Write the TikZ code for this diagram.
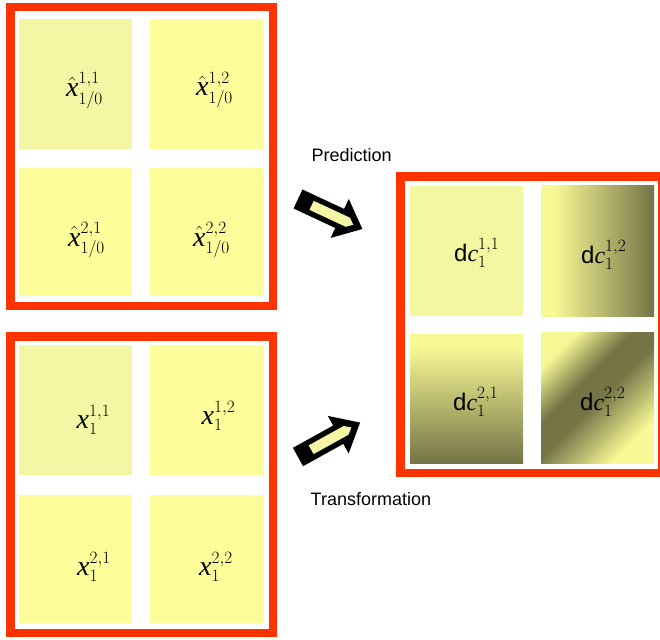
\documentclass[tikz,border=0pt]{standalone}
\usepackage{amsmath}
\usepackage{fontspec}
\setmainfont{Liberation Serif}
\setsansfont{Liberation Sans}
\DeclareMathSizes{28}{28}{17}{12}
\DeclareMathSizes{24}{24}{16}{12}
\definecolor{framered}{HTML}{FF3300}
\definecolor{tileA}{HTML}{F3F7A3}
\definecolor{tileB}{HTML}{FDFD99}
\definecolor{tileC}{HTML}{F3F79F}
\definecolor{gy}{RGB}{248,248,150}
\definecolor{gd}{RGB}{116,116,70}
\definecolor{arrowfill}{HTML}{F6F7A6}
\pgfdeclarehorizontalshading{hsh}{100bp}{color(0bp)=(gy); color(25bp)=(gy); color(31bp)=(gy); color(75bp)=(gd); color(100bp)=(gd)}
\pgfdeclareverticalshading{vsh}{100bp}{color(0bp)=(gd); color(25bp)=(gd); color(70bp)=(gy); color(75bp)=(gy); color(100bp)=(gy)}
\pgfdeclarehorizontalshading{dsh}{100bp}{color(0bp)=(gy); color(25bp)=(gy); color(41bp)=(gd); color(51bp)=(gd); color(73bp)=(gy); color(100bp)=(gy)}
\tikzset{
  frame/.style={draw=framered, line width=8.5pt, inner sep=0pt, minimum width=262.5pt},
  tile/.style={inner sep=0pt, minimum width=113pt},
  mlab/.style={anchor=base west, inner sep=0pt, font=\fontsize{28}{28}\selectfont},
  dlab/.style={anchor=base west, inner sep=0pt, font=\fontsize{24}{24}\selectfont},
  caption/.style={anchor=base west, inner sep=0pt, font=\sffamily\fontsize{18}{18}\selectfont},
  blockarrow/.pic={
    \fill[black] (0,-10.5) -- (46,-10.5) -- (46,-21.5) -- (71,0) -- (46,21.5) -- (46,10.5) -- (0,10.5) -- cycle;
    \fill[arrowfill] (15,-5) -- (55,-5) -- (61,0) -- (55,5) -- (15,5) -- cycle;
  }
}
\begin{document}
\begin{tikzpicture}[x=1pt,y=-1pt]
\useasboundingbox (0,0) rectangle (660,639);
% frames
\node[frame, minimum height=298.5pt] (F1) at (141.5,156.5) {};
\node[frame, minimum height=296.5pt] (F2) at (141.5,484.5) {};
\node[frame, minimum width=261.5pt, minimum height=296.5pt] (F3) at (531,324.5) {};
% top-left box tiles
\node[tile, fill=tileA, minimum height=130pt] (h11) at (75.5,84) {};
\node[tile, fill=tileB, minimum height=130pt] (h12) at (206.5,84) {};
\node[tile, fill=tileB, minimum height=128pt] (h21) at (75.5,232) {};
\node[tile, fill=tileB, minimum height=128pt] (h22) at (206.5,232) {};
% bottom-left box tiles
\node[tile, fill=tileA, minimum height=130pt] (x11) at (75.5,410) {};
\node[tile, fill=tileB, minimum height=130pt] (x12) at (206.5,410) {};
\node[tile, fill=tileB, minimum height=128pt] (x21) at (75.5,559) {};
\node[tile, fill=tileB, minimum height=128pt] (x22) at (206.5,559) {};
% right box tiles
\node[tile, fill=tileC, minimum height=130pt] (d11) at (466.5,251) {};
\node[tile, shading=hsh, minimum height=131pt] (d12) at (597.5,250.5) {};
\node[tile, shading=vsh, minimum height=129pt] (d21) at (466.5,398.5) {};
\node[tile, shading=dsh, shading angle=-45, minimum height=131pt] (d22) at (597.5,397.5) {};
% labels
\node[mlab] (lh11) at (66,96.5) {$\hat{\text{\itshape x}}^{1,1}_{1/0}$};
\node[mlab] (lh12) at (196,96) {$\hat{\text{\itshape x}}^{1,2}_{1/0}$};
\node[mlab] (lh21) at (68,246) {$\hat{\text{\itshape x}}^{2,1}_{1/0}$};
\node[mlab] (lh22) at (193,246) {$\hat{\text{\itshape x}}^{2,2}_{1/0}$};
\node[mlab] (lx11) at (76.5,428) {$\text{\itshape x}^{1,1}_{1}$};
\node[mlab] (lx12) at (201.5,424) {$\text{\itshape x}^{1,2}_{1}$};
\node[mlab] (lx21) at (77,575) {$\text{\itshape x}^{2,1}_{1}$};
\node[mlab] (lx22) at (199,575) {$\text{\itshape x}^{2,2}_{1}$};
\node[dlab] (ld11) at (454,261) {$\text{\sffamily d}\text{\itshape c}^{1,1}_{1}$};
\node[dlab] (ld12) at (581,263) {$\text{\sffamily d}\text{\itshape c}^{1,2}_{1}$};
\node[dlab] (ld21) at (453,410) {$\text{\sffamily d}\text{\itshape c}^{2,1}_{1}$};
\node[dlab] (ld22) at (580,410) {$\text{\sffamily d}\text{\itshape c}^{2,2}_{1}$};
% captions
\node[caption] (pred) at (311.5,161) {Prediction};
\node[caption] (trans) at (310.5,505) {Transformation};
% arrows
\pic[rotate=-25] at (298,199) {blockarrow};
\pic[rotate=29] at (298,457) {blockarrow};
\end{tikzpicture}
\end{document}
